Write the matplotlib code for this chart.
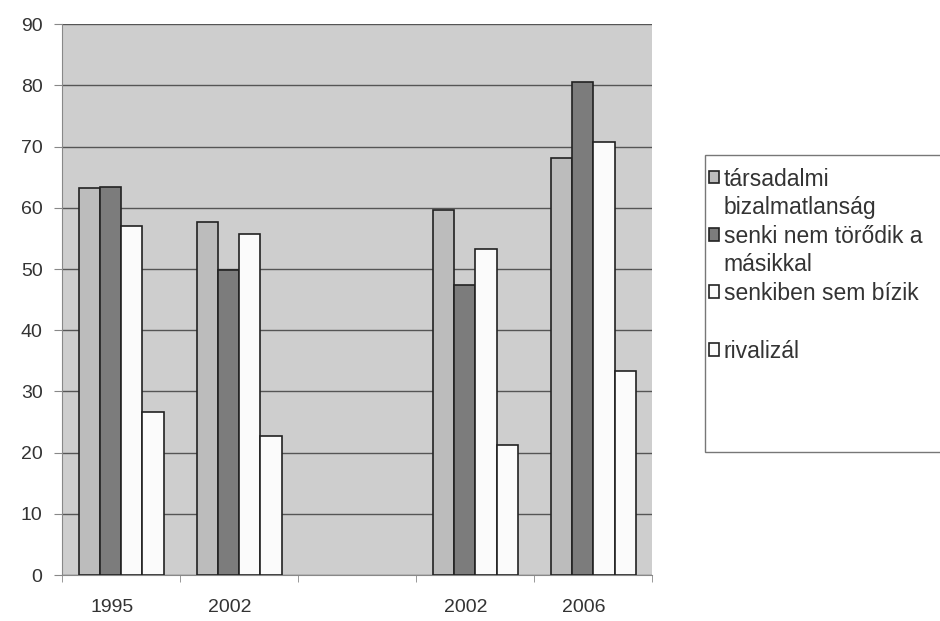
import matplotlib.pyplot as plt
from matplotlib.patches import Rectangle
from matplotlib.legend_handler import HandlerPatch
import numpy as np

plt.rcParams['font.family'] = ['Liberation Sans', 'DejaVu Sans']

years = ['1995', '2002', '', '2002', '2006']
tarsadalmi = [63.3, 57.7, np.nan, 59.7, 68.2]
senki_nem = [63.4, 49.8, np.nan, 47.4, 80.5]
senkiben = [57.0, 55.7, np.nan, 53.2, 70.8]
rivalizal = [26.7, 22.8, np.nan, 21.3, 33.4]

labels = ['társadalmi\nbizalmatlanság', 'senki nem törődik a\nmásikkal',
          'senkiben sem bízik\n', 'rivalizál']
colors = ['#bcbcbc', '#7c7c7c', '#fbfbfb', '#fbfbfb']

FS = 16.5
LS = 1.28

fig = plt.figure(figsize=(9.4, 6.21), dpi=100)
ax = fig.add_axes([0.066, 0.074, 0.628, 0.887])
ax.set_facecolor('#cecece')

x = np.arange(len(years))
w = 0.18
series = [tarsadalmi, senki_nem, senkiben, rivalizal]
bars = []
for i, vals in enumerate(series):
    b = ax.bar(x + (i - 1.5) * w, vals, w, color=colors[i], edgecolor='#222222',
               linewidth=1.2, label=labels[i], zorder=3)
    bars.append(b)

ax.set_ylim(0, 90)
ax.set_xlim(-0.5, len(years) - 0.5)
ax.set_yticks(range(0, 91, 10))
ax.yaxis.grid(True, color='#555555', linewidth=1.0, zorder=1)
ax.set_xticks(x - 0.08)
ax.set_xticklabels(years)
ax.set_xticks(np.arange(-0.5, len(years), 1), minor=True)
ax.tick_params(axis='x', which='major', length=0, pad=17, labelsize=14, colors='#333333')
ax.tick_params(axis='x', which='minor', length=5, color='#888888')
ax.tick_params(axis='y', length=6, color='#888888', labelsize=14, pad=8)
ax.tick_params(axis='y', colors='#888888', labelcolor='#333333')

for side in ['top', 'right']:
    ax.spines[side].set_visible(False)
ax.spines['left'].set_color('#888888')
ax.spines['bottom'].set_color('#888888')


def top_square(legend, orig_handle, xdescent, ydescent, width, height, fontsize):
    # push the square up so it sits next to the first line of the label
    return Rectangle((-xdescent, -ydescent + 0.5 * FS * LS * 1.17), width, height)


def plain_square(legend, orig_handle, xdescent, ydescent, width, height, fontsize):
    return Rectangle((-xdescent, -ydescent), width, height)


handles = [b.patches[0] for b in bars]
handlers = {handles[0]: HandlerPatch(patch_func=top_square),
            handles[1]: HandlerPatch(patch_func=top_square),
            handles[2]: HandlerPatch(patch_func=top_square),
            handles[3]: HandlerPatch(patch_func=plain_square)}

# legend box runs off the right edge in the original
fig.patches.append(Rectangle((705 / 940, 1 - 452 / 621), 0.3, (452 - 155) / 621,
                             transform=fig.transFigure, facecolor='white',
                             edgecolor='#777777', linewidth=1.0, zorder=0))
leg = fig.legend(handles=handles, labels=labels, handler_map=handlers,
                 loc='upper left', bbox_to_anchor=(0.742, 0.748), fontsize=FS,
                 handlelength=0.45, handleheight=0.45, handletextpad=0.2,
                 labelspacing=0.27, borderpad=0.0, frameon=False)
for t in leg.get_texts():
    t.set_color('#333333')
    t.set_linespacing(LS)

fig.savefig('out.png', dpi=100)
